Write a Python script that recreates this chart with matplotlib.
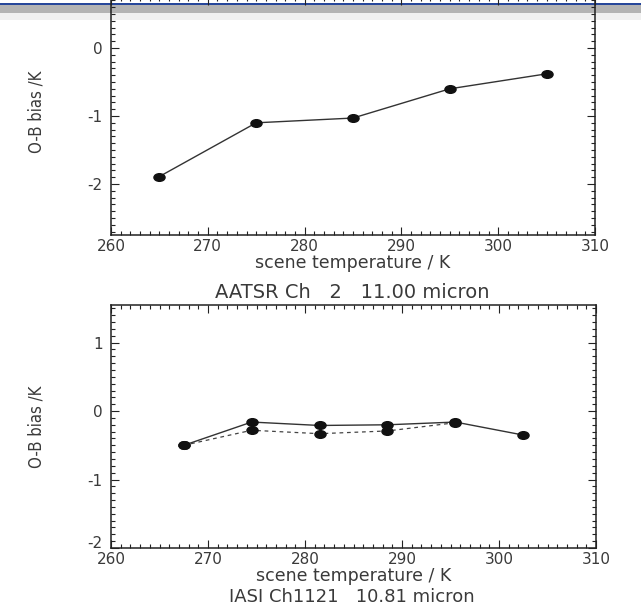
import matplotlib
matplotlib.use("Agg")
import matplotlib.pyplot as plt
from matplotlib.patches import Rectangle
from matplotlib.path import Path
from matplotlib.transforms import Affine2D, ScaledTranslation
from matplotlib.ticker import MultipleLocator

plt.rcParams["axes.unicode_minus"] = False

# AATSR channel 2 (11.00 micron): O-B bias per scene-temperature bin
aatsr_temp = [265, 275, 285, 295, 305]
aatsr_bias = [-1.89, -1.10, -1.03, -0.60, -0.38]

# IASI channel 1121 (10.81 micron): two bias estimates per bin
iasi_temp = [267.5, 274.5, 281.5, 288.5, 295.5, 302.5]
iasi_bias_solid = [-0.50, -0.16, -0.21, -0.20, -0.16, -0.35]
iasi_temp_dash = [267.5, 274.5, 281.5, 288.5, 295.5]
iasi_bias_dash = [-0.50, -0.28, -0.33, -0.29, -0.17]

x_ticks = [260, 270, 280, 290, 300, 310]
xlabel = "scene temperature / K"
ylabel = "O-B bias /K"
caption_top = "AATSR Ch   2   11.00 micron"
caption_bottom = "IASI Ch1121   10.81 micron"

W, H = 641, 605
fig = plt.figure(figsize=(W / 100, H / 100), dpi=100)
fig.patch.set_facecolor("white")

# slide header strips
fig.add_artist(Rectangle((0, 1 - 5 / H), 1, 2 / H, transform=fig.transFigure,
                         facecolor="#27479a", edgecolor="none", zorder=-2))
fig.add_artist(Rectangle((0, 1 - 13 / H), 1, 8 / H, transform=fig.transFigure,
                         facecolor="#b3b3b3", edgecolor="none", zorder=-2))
fig.add_artist(Rectangle((0, 1 - 20 / H), 1, 7 / H, transform=fig.transFigure,
                         facecolor="#f0f0f0", edgecolor="none", zorder=-2))

# flattened ellipse marker
ell = Path.unit_circle().transformed(Affine2D().scale(1.45, 1.0))

text_col = "#3a3a3a"


def px_axes(left, right, top, bottom):
    return fig.add_axes([left / W, 1 - bottom / H, (right - left) / W, (bottom - top) / H])


def style(ax, ylim, yticks):
    ax.set_facecolor("none")
    ax.set_xlim(260, 310)
    ax.set_ylim(*ylim)
    ax.set_xticks(x_ticks)
    ax.set_yticks(yticks)
    ax.xaxis.set_minor_locator(MultipleLocator(1))
    ax.yaxis.set_minor_locator(MultipleLocator(0.1))
    ax.tick_params(which="both", direction="in", top=True, right=True,
                   colors="#222222", width=0.8, labelcolor=text_col)
    ax.tick_params(which="major", length=6)
    ax.tick_params(axis="x", which="major", pad=3)
    ax.tick_params(axis="y", which="major", pad=6)
    ax.tick_params(which="minor", length=3)
    for lab in ax.get_xticklabels() + ax.get_yticklabels():
        lab.set_fontfamily("DejaVu Sans")
        lab.set_fontsize(11)
    for sp in ax.spines.values():
        sp.set_linewidth(1.1)
        sp.set_color("#222222")
    ax.set_xlabel(xlabel, fontsize=12.5, family="DejaVu Sans", color=text_col, labelpad=0)
    ax.set_ylabel(ylabel, fontsize=12, family="DejaVu Sans", stretch="condensed",
                  color=text_col)


ax1 = px_axes(111, 595, -3, 235)
ax1.plot(aatsr_temp, aatsr_bias, color="#333333", lw=1.0,
         marker=ell, ms=8, mfc="#111111", mec="#111111")
style(ax1, (-2.75, 0.75), [-2, -1, 0])
ax1.yaxis.set_label_coords(-66 / (595 - 111), (235 - 112) / 238)

ax2 = px_axes(111, 596, 305, 548)
ax2.plot(iasi_temp_dash, iasi_bias_dash, color="#444444", lw=0.9, ls=(0, (3, 3)),
         marker=ell, ms=8, mfc="#111111", mec="#111111")
ax2.plot(iasi_temp, iasi_bias_solid, color="#333333", lw=1.0,
         marker=ell, ms=8, mfc="#111111", mec="#111111")
style(ax2, (-2.0, 1.55), [-2, -1, 0, 1])
ax2.yaxis.set_label_coords(-66 / (596 - 111), (548 - 427) / 243)

# lift the corner "-2" label clear of the "260" label below it
corner = ax2.yaxis.get_major_ticks()[0].label1
corner.set_transform(corner.get_transform()
                     + ScaledTranslation(0, 4 / 72, fig.dpi_scale_trans))

fig.text(352 / W, 1 - 293 / H, caption_top, ha="center", va="center",
         fontsize=14, family="DejaVu Sans", color=text_col)
fig.text(352 / W, 1 - 597 / H, caption_bottom, ha="center", va="center",
         fontsize=13, family="DejaVu Sans", color=text_col)

fig.savefig("out.png", dpi=100)
